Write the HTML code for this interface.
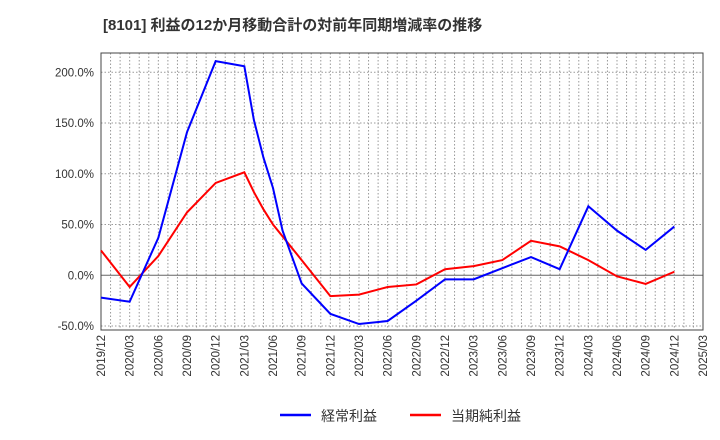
<!DOCTYPE html>
<html><head><meta charset="utf-8"><style>
body{margin:0;background:#fff;}
svg{display:block;font-family:"Liberation Sans","Noto Sans CJK JP",sans-serif;}
</style></head><body>
<svg id="chart" width="720" height="440">
<text x="103" y="30" font-size="15" font-weight="bold" fill="#333">[8101]  利益の12か月移動合計の対前年同期増減率の推移</text>
<g id="grid"></g>
<g id="axes"></g>
<g id="series"></g>
<g>
<line x1="280" y1="415" x2="311" y2="415" stroke="#0000ff" stroke-width="2.5"/>
<text x="321" y="421" font-size="14" fill="#333">経常利益</text>
<line x1="410" y1="415" x2="441" y2="415" stroke="#ff0000" stroke-width="2.5"/>
<text x="451" y="421" font-size="14" fill="#333">当期純利益</text>
</g>
</svg>
<script>
const xLabels=["2019/12","2020/03","2020/06","2020/09","2020/12","2021/03","2021/06","2021/09","2021/12","2022/03","2022/06","2022/09","2022/12","2023/03","2023/06","2023/09","2023/12","2024/03","2024/06","2024/09","2024/12","2025/03"];
const yTicks=[-50,0,50,100,150,200];
const blueMonths=[0,3,6,9,12,15,16,17,18,19,21,24,27,30,33,36,39,42,45,48,51,54,57,60];
const blueValues=[-22,-26,37,141,211,206,153,116,86,44,-8,-38,-48,-45,-25,-4,-4,7,18,6,68,44,25,48];
const redMonths=[0,3,6,9,12,15,16,17,18,21,24,27,30,33,36,39,42,45,48,51,54,57,60];
const redValues=[24.5,-11.5,19,62,91,101.5,82,65,50,15,-20.5,-19,-11.5,-9,6,9,15,34,28.5,15,-1,-8.5,3.5];
const L=101,R=703,T=53,B=330;
const NS="http://www.w3.org/2000/svg";
function X(m){return L+m*(R-L)/63;}
function Y(v){return 275.3-v*1.015;}
function mk(tag,attrs,parent){const e=document.createElementNS(NS,tag);for(const k in attrs)e.setAttribute(k,attrs[k]);parent.appendChild(e);return e;}
const grid=document.getElementById('grid'),axes=document.getElementById('axes'),ser=document.getElementById('series');
for(let m=1;m<63;m++){const l=mk('line',{x1:X(m),x2:X(m),y1:T,y2:B,stroke:'#999','stroke-dasharray':'1.5,2','stroke-width':1},grid);

}
yTicks.forEach(v=>{const y=Y(v);
const l=mk('line',{x1:L,x2:R,y1:y,y2:y,stroke:v===0?'#666':'#999','stroke-dasharray':v===0?'none':'1.5,2','stroke-width':1},grid);


const t=mk('text',{x:L-7,y:y+4,'text-anchor':'end','font-size':11.5,fill:'#333'},axes);
t.textContent=v.toFixed(1)+'%';

});
xLabels.forEach((s,i)=>{const x=X(i*3);
const t=mk('text',{transform:`translate(${x+4},335) rotate(-90)`,'text-anchor':'end','font-size':11.5,fill:'#333'},axes);
t.textContent=s;

});
const fr=mk('rect',{x:L,y:T,width:R-L,height:B-T,fill:'none',stroke:'#444','stroke-width':1},axes);


function line(ms,vs,c,name){const p=mk('polyline',{points:ms.map((m,i)=>X(m)+','+Y(vs[i])).join(' '),fill:'none',stroke:c,'stroke-width':2},ser);

}
line(redMonths,redValues,'#ff0000','net-income-line');
line(blueMonths,blueValues,'#0000ff','ordinary-profit-line');
</script>
</body></html>
